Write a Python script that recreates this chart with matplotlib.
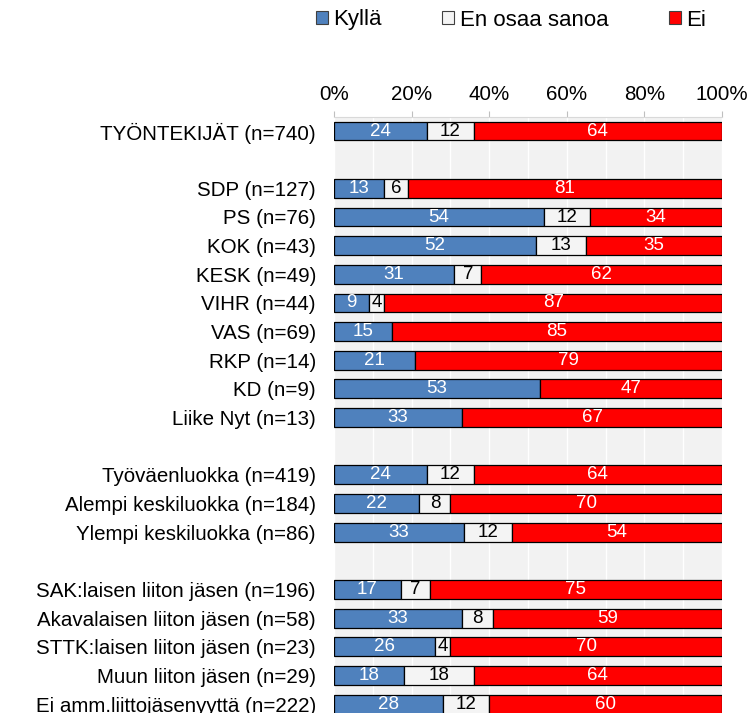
import numpy as np
import matplotlib
matplotlib.use('Agg')
import matplotlib.pyplot as plt
from matplotlib.patches import Patch

plt.rcParams['font.family'] = ['Liberation Sans', 'DejaVu Sans']

# Data ('' = empty separator row)
groups = ['TYÖNTEKIJÄT (n=740)', '',
          'SDP (n=127)', 'PS (n=76)', 'KOK (n=43)', 'KESK (n=49)', 'VIHR (n=44)',
          'VAS (n=69)', 'RKP (n=14)', 'KD (n=9)', 'Liike Nyt (n=13)', '',
          'Työväenluokka (n=419)', 'Alempi keskiluokka (n=184)', 'Ylempi keskiluokka (n=86)', '',
          'SAK:laisen liiton jäsen (n=196)', 'Akavalaisen liiton jäsen (n=58)',
          'STTK:laisen liiton jäsen (n=23)', 'Muun liiton jäsen (n=29)',
          'Ei amm.liittojäsenyyttä (n=222)']
kylla = [24, np.nan, 13, 54, 52, 31, 9, 15, 21, 53, 33, np.nan, 24, 22, 33.4, np.nan, 17.3, 33, 26, 18, 28]
eos = [12, np.nan, 6, 12, 13, 7, 4, 0, 0, 0, 0, np.nan, 12, 8, 12.4, np.nan, 7.4, 8, 4, 18, 12]
ei = [64, np.nan, 81, 34, 35, 62, 87, 85, 79, 47, 67, np.nan, 64, 70, 54.2, np.nan, 75.3, 59, 70, 64, 60]

series = [('Kyllä', kylla, '#4F81BD', 'white'),
          ('En osaa sanoa', eos, '#F4F4F4', 'black'),
          ('Ei', ei, '#FF0000', 'white')]

fig = plt.figure(figsize=(7.51, 7.13), dpi=100)
ax = fig.add_axes([334 / 751, (713 - 718.5) / 713, 388 / 751, 601.8 / 713])
ax.set_facecolor('#F2F2F2')

y = np.arange(len(groups))
left = np.zeros(len(groups))
for name, vals, col, tcol in series:
    v = np.array(vals, dtype=float)
    mask = ~np.isnan(v) & (v > 0)
    ax.barh(y[mask], v[mask], left=left[mask], height=0.66, color=col,
            edgecolor='black', linewidth=0.9, zorder=3)
    for yi, li, vi in zip(y[mask], left[mask], v[mask]):
        ax.text(li + vi / 2, yi, f'{round(vi):d}', ha='center', va='center',
                color=tcol, fontsize=13.5, zorder=4)
    left = left + np.nan_to_num(v)

ax.set_xlim(0, 100)
ax.set_ylim(len(groups) - 0.5, -0.5)
ax.set_yticks(y)
ax.set_yticklabels(groups, fontsize=14.8)
ax.tick_params(axis='y', length=0, pad=13)
ax.set_xticks(np.arange(0, 101, 20))
ax.set_xticklabels([f'{t}%' for t in range(0, 101, 20)], fontsize=14.8)
ax.xaxis.tick_top()
ax.tick_params(axis='x', length=4, color='#BFBFBF', pad=5)
ax.set_xticks(np.arange(0, 101, 10), minor=True)
ax.tick_params(axis='x', which='minor', length=0)
ax.grid(axis='x', which='both', color='white', linewidth=1, zorder=0)
for s in ax.spines.values():
    s.set_visible(False)
ax.spines['top'].set_visible(True)
ax.spines['top'].set_color('#D9D9D9')

handles = [Patch(facecolor=c, edgecolor='#404040', linewidth=0.8, label=n) for n, _, c, _ in series]
fig.legend(handles=handles, loc='center', bbox_to_anchor=(511 / 751, 1 - 20 / 713), ncol=3,
           frameon=False, fontsize=16, handlelength=0.55, handleheight=0.55,
           handletextpad=0.25, columnspacing=2.7, borderaxespad=0)

fig.savefig('out.png', dpi=100)
